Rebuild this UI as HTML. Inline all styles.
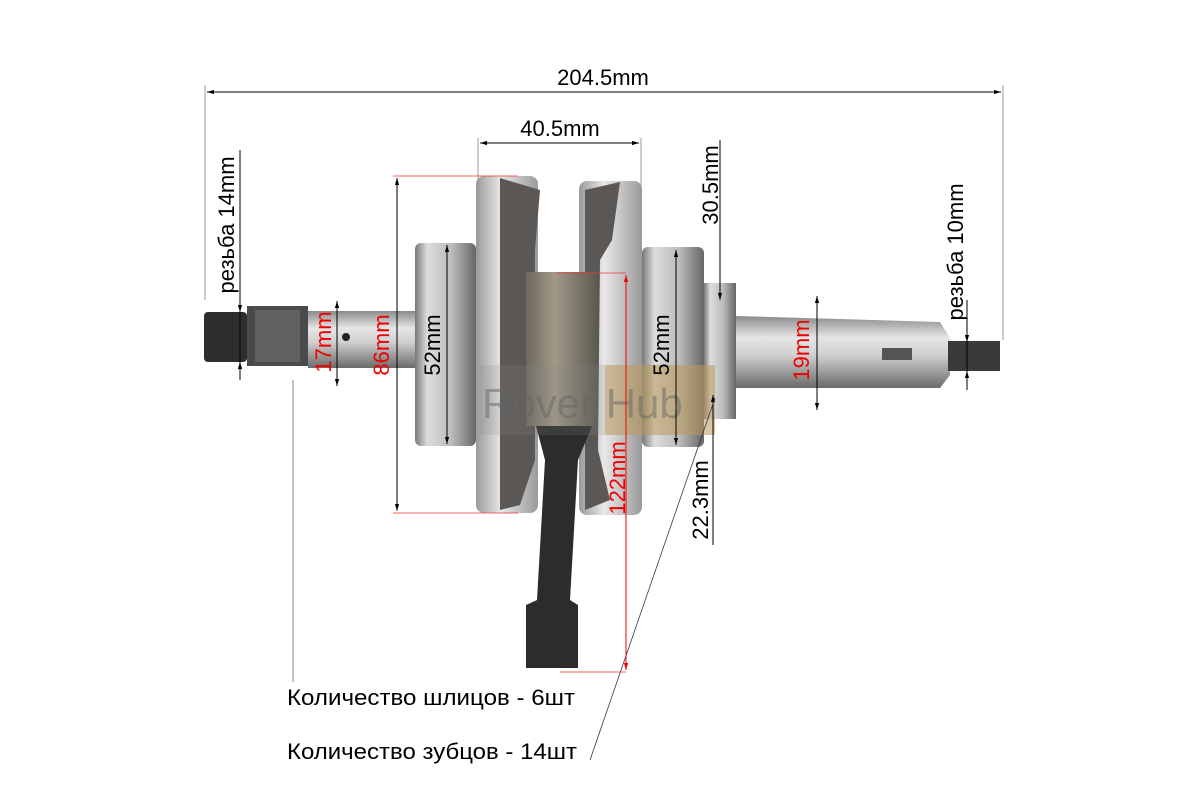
<!DOCTYPE html>
<html><head><meta charset="utf-8"><style>
html,body{margin:0;padding:0;background:#fff;}
svg{display:block;font-family:"Liberation Sans",sans-serif;}
</style></head><body>
<svg width="1196" height="800" viewBox="0 0 1196 800" xmlns="http://www.w3.org/2000/svg">
<defs>
<linearGradient id="steel" x1="0" y1="0" x2="0" y2="1">
<stop offset="0" stop-color="#8a8a8a"/><stop offset="0.3" stop-color="#e6e6e6"/><stop offset="0.55" stop-color="#cfcfcf"/><stop offset="1" stop-color="#6a6a6a"/></linearGradient>
<linearGradient id="brg" x1="0" y1="0" x2="1" y2="0">
<stop offset="0" stop-color="#777"/><stop offset="0.2" stop-color="#ddd"/><stop offset="0.6" stop-color="#bbb"/><stop offset="1" stop-color="#666"/></linearGradient>
<linearGradient id="fw" x1="0" y1="0" x2="1" y2="0">
<stop offset="0" stop-color="#9a9a9a"/><stop offset="0.4" stop-color="#e8e8e8"/><stop offset="1" stop-color="#9a9a9a"/></linearGradient>
<linearGradient id="pin" x1="0" y1="0" x2="1" y2="0">
<stop offset="0" stop-color="#6d685e"/><stop offset="0.4" stop-color="#a29a88"/><stop offset="1" stop-color="#5e5a52"/></linearGradient>
<marker id="a" viewBox="0 0 10 10" refX="10" refY="5" markerWidth="7" markerHeight="7" orient="auto-start-reverse"><path d="M0,2 L10,5 L0,8z" fill="#000"/></marker>
<marker id="ar" viewBox="0 0 10 10" refX="10" refY="5" markerWidth="7" markerHeight="7" orient="auto-start-reverse"><path d="M0,2 L10,5 L0,8z" fill="#e00"/></marker>
</defs>

<!-- right shaft -->
<path d="M736,316 L940,322 L950,338 L950,375 L940,388 L736,388z" fill="url(#steel)"/>
<rect x="882" y="348" width="30" height="12" fill="#555"/>
<rect x="948" y="341" width="52" height="30" fill="#3a3a3a"/>
<!-- gear -->
<rect x="704" y="283" width="32" height="136" fill="url(#brg)"/>
<!-- right bearing -->
<rect x="642" y="247" width="62" height="200" rx="6" fill="url(#brg)"/>
<!-- right flywheel -->
<rect x="579" y="181" width="63" height="334" rx="8" fill="url(#fw)"/>
<path d="M585,190 L620,182 L612,240 L600,260 L598,450 L610,500 L585,510z" fill="#5a5754"/>
<!-- left flywheel -->
<rect x="476" y="176" width="62" height="337" rx="8" fill="url(#fw)"/>
<path d="M500,178 L540,190 L535,250 L535,460 L520,505 L500,510z" fill="#5a5754"/>
<!-- crank pin -->
<rect x="526" y="272" width="71" height="154" fill="url(#pin)"/>
<!-- con rod -->
<path d="M536,426 L592,426 L578,460 L570,600 L578,605 L578,668 L526,668 L526,605 L537,600 L545,460z" fill="#2c2c2c"/>
<!-- left bearing -->
<rect x="415" y="243" width="61" height="203" rx="6" fill="url(#brg)"/>
<!-- left shaft -->
<rect x="308" y="311" width="107" height="57" fill="url(#steel)"/>
<circle cx="346" cy="337" r="4" fill="#222"/>
<rect x="247" y="306" width="61" height="60" fill="#4a4a4a"/>
<rect x="255" y="310" width="45" height="52" fill="#777" opacity="0.5"/>
<rect x="204" y="312" width="43" height="50" rx="4" fill="#2e2e2e"/>

<!-- watermark -->
<rect x="605" y="365" width="110" height="70" fill="#d9a441" opacity="0.45"/>
<rect x="480" y="365" width="235" height="70" fill="#888" opacity="0.2"/>
<text x="482" y="418" font-size="42" fill="#666" opacity="0.5">Rover Hub</text>

<!-- dimension lines -->
<g stroke="#000" stroke-width="1" fill="none">
<line x1="205" y1="85" x2="205" y2="300" stroke="#999"/>
<line x1="1003" y1="85" x2="1003" y2="340" stroke="#999"/>
<line x1="207" y1="92" x2="1001" y2="92" marker-start="url(#a)" marker-end="url(#a)"/>
<line x1="478" y1="138" x2="478" y2="260" stroke="#999"/>
<line x1="641" y1="138" x2="641" y2="260" stroke="#999"/>
<line x1="480" y1="143" x2="639" y2="143" marker-start="url(#a)" marker-end="url(#a)"/>
<line x1="240" y1="150" x2="240" y2="380"/>
<line x1="240" y1="295" x2="240" y2="312" marker-end="url(#a)"/>
<line x1="240" y1="380" x2="240" y2="362" marker-end="url(#a)"/>
<line x1="337" y1="301" x2="337" y2="386" marker-start="url(#a)" marker-end="url(#a)"/>
<line x1="397" y1="178" x2="397" y2="511" marker-start="url(#a)" marker-end="url(#a)"/>
<line x1="447" y1="245" x2="447" y2="444" marker-start="url(#a)" marker-end="url(#a)"/>
<line x1="676" y1="250" x2="676" y2="445" marker-start="url(#a)" marker-end="url(#a)"/>
<line x1="720" y1="140" x2="720" y2="300" marker-end="url(#a)"/>
<line x1="713" y1="545" x2="713" y2="395" marker-end="url(#a)"/>
<line x1="817" y1="296" x2="817" y2="410" marker-start="url(#a)" marker-end="url(#a)"/>
<line x1="967" y1="300" x2="967" y2="390"/>
<line x1="967" y1="330" x2="967" y2="342" marker-end="url(#a)"/>
<line x1="967" y1="385" x2="967" y2="371" marker-end="url(#a)"/>
<line x1="293" y1="380" x2="293" y2="682" stroke="#888"/>
<line x1="715" y1="398" x2="590" y2="760" stroke="#335" stroke-width="0.8"/>
</g>
<g stroke="#e33" stroke-width="0.8">
<line x1="393" y1="176" x2="518" y2="176"/>
<line x1="393" y1="513" x2="518" y2="513"/>
<line x1="557" y1="273" x2="626" y2="273"/>
<line x1="560" y1="672" x2="626" y2="672"/>
</g>
<line x1="626" y1="275" x2="626" y2="670" stroke="#e00" marker-start="url(#ar)" marker-end="url(#ar)"/>

<!-- labels -->
<g font-size="22" fill="#000">
<text x="603" y="85" text-anchor="middle">204.5mm</text>
<text x="560" y="136" text-anchor="middle">40.5mm</text>
<text transform="translate(234,225) rotate(-90)" text-anchor="middle">резьба 14mm</text>
<text transform="translate(718,185) rotate(-90)" text-anchor="middle">30.5mm</text>
<text transform="translate(963,252) rotate(-90)" text-anchor="middle">резьба 10mm</text>
<text transform="translate(708,500) rotate(-90)" text-anchor="middle">22.3mm</text>
<text transform="translate(440,345) rotate(-90)" text-anchor="middle">52mm</text>
<text transform="translate(669,345) rotate(-90)" text-anchor="middle">52mm</text>
<text x="287" y="705" textLength="288" lengthAdjust="spacingAndGlyphs">Количество шлицов - 6шт</text>
<text x="287" y="759" textLength="290" lengthAdjust="spacingAndGlyphs">Количество зубцов - 14шт</text>
</g>
<g font-size="22" fill="#e00">
<text transform="translate(331,342) rotate(-90)" text-anchor="middle">17mm</text>
<text transform="translate(389,345) rotate(-90)" text-anchor="middle">86mm</text>
<text transform="translate(625,478) rotate(-90)" text-anchor="middle">122mm</text>
<text transform="translate(809,350) rotate(-90)" text-anchor="middle">19mm</text>
</g>
</svg>
</body></html>
